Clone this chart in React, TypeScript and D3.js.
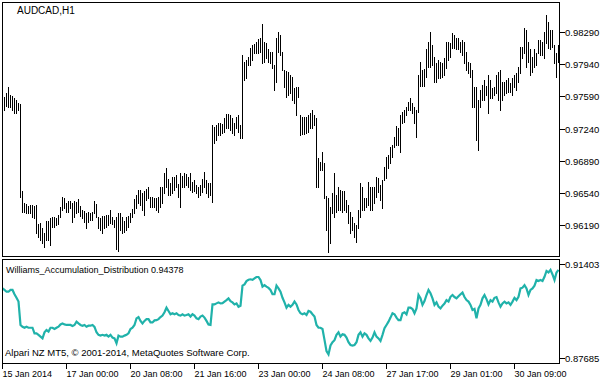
import React from "react";
import * as d3 from "d3";

const SYMBOL = "AUDCAD,H1";
const INDICATOR = "Williams_Accumulation_Distribution 0.94378";
const COPYRIGHT = "Alpari NZ MT5, © 2001-2014, MetaQuotes Software Corp.";

const HIGH = [
  0.9767, 0.9758, 0.9763, 0.9769, 0.9761, 0.9759, 0.9757, 0.9755, 0.9752, 0.9751,
  0.9656, 0.9643, 0.9642, 0.9640, 0.9641, 0.9641, 0.9640, 0.9641, 0.9620, 0.9621,
  0.9616, 0.9610, 0.9624, 0.9624, 0.9627, 0.9628, 0.9628, 0.9627, 0.9630, 0.9639,
  0.9650, 0.9649, 0.9643, 0.9645, 0.9645, 0.9643, 0.9645, 0.9644, 0.9647, 0.9640,
  0.9636, 0.9634, 0.9632, 0.9633, 0.9632, 0.9633, 0.9645, 0.9642, 0.9628, 0.9627,
  0.9629, 0.9629, 0.9630, 0.9630, 0.9636, 0.9628, 0.9625, 0.9628, 0.9632, 0.9632,
  0.9628, 0.9624, 0.9628, 0.9629, 0.9632, 0.9637, 0.9647, 0.9652, 0.9657, 0.9657,
  0.9654, 0.9656, 0.9658, 0.9660, 0.9650, 0.9650, 0.9649, 0.9649, 0.9650, 0.9661,
  0.9661, 0.9676, 0.9681, 0.9669, 0.9665, 0.9671, 0.9671, 0.9674, 0.9664, 0.9676,
  0.9673, 0.9676, 0.9675, 0.9671, 0.9676, 0.9666, 0.9668, 0.9663, 0.9661, 0.9663,
  0.9669, 0.9677, 0.9668, 0.9665, 0.9665, 0.9728, 0.9726, 0.9728, 0.9730, 0.9730,
  0.9729, 0.9736, 0.9740, 0.9740, 0.9739, 0.9736, 0.9730, 0.9737, 0.9739, 0.9728,
  0.9804, 0.9796, 0.9799, 0.9802, 0.9812, 0.9815, 0.9816, 0.9818, 0.9821, 0.9822,
  0.9838, 0.9818, 0.9817, 0.9810, 0.9807, 0.9807, 0.9793, 0.9822, 0.9829, 0.9826,
  0.9807, 0.9788, 0.9787, 0.9786, 0.9782, 0.9780, 0.9768, 0.9769, 0.9769, 0.9739,
  0.9737, 0.9737, 0.9737, 0.9739, 0.9741, 0.9744, 0.9739, 0.9736, 0.9692, 0.9688,
  0.9699, 0.9687, 0.9651, 0.9649, 0.9639, 0.9654, 0.9676, 0.9652, 0.9661, 0.9657,
  0.9656, 0.9656, 0.9646, 0.9641, 0.9633, 0.9628, 0.9621, 0.9619, 0.9636, 0.9665,
  0.9660, 0.9649, 0.9649, 0.9666, 0.9660, 0.9661, 0.9660, 0.9671, 0.9670, 0.9663,
  0.9668, 0.9682, 0.9693, 0.9695, 0.9704, 0.9706, 0.9715, 0.9727, 0.9725, 0.9739,
  0.9742, 0.9744, 0.9748, 0.9753, 0.9757, 0.9752, 0.9748, 0.9744, 0.9782, 0.9796,
  0.9788, 0.9789, 0.9810, 0.9818, 0.9829, 0.9815, 0.9802, 0.9795, 0.9799, 0.9796,
  0.9795, 0.9801, 0.9818, 0.9818, 0.9817, 0.9828, 0.9826, 0.9822, 0.9822, 0.9818,
  0.9820, 0.9818, 0.9807, 0.9796, 0.9795, 0.9788, 0.9769, 0.9769, 0.9755, 0.9766,
  0.9771, 0.9777, 0.9770, 0.9782, 0.9777, 0.9768, 0.9769, 0.9782, 0.9786, 0.9788,
  0.9775, 0.9775, 0.9777, 0.9779, 0.9774, 0.9779, 0.9782, 0.9784, 0.9791, 0.9813,
  0.9813, 0.9833, 0.9831, 0.9818, 0.9810, 0.9802, 0.9810, 0.9806, 0.9820, 0.9820,
  0.9818, 0.9829, 0.9848, 0.9840, 0.9831, 0.9831, 0.9815, 0.9806, 0.9815,
];

const LOW = [
  0.9748, 0.9744, 0.9749, 0.9748, 0.9748, 0.9744, 0.9741, 0.9741, 0.9744, 0.9650,
  0.9633, 0.9633, 0.9632, 0.9632, 0.9632, 0.9628, 0.9627, 0.9610, 0.9606, 0.9603,
  0.9600, 0.9595, 0.9603, 0.9603, 0.9597, 0.9617, 0.9617, 0.9619, 0.9620, 0.9628,
  0.9636, 0.9638, 0.9633, 0.9633, 0.9638, 0.9622, 0.9628, 0.9632, 0.9633, 0.9629,
  0.9627, 0.9622, 0.9616, 0.9622, 0.9625, 0.9625, 0.9632, 0.9628, 0.9616, 0.9614,
  0.9610, 0.9616, 0.9617, 0.9619, 0.9621, 0.9620, 0.9617, 0.9593, 0.9591, 0.9614,
  0.9610, 0.9612, 0.9614, 0.9617, 0.9622, 0.9628, 0.9632, 0.9638, 0.9643, 0.9641,
  0.9636, 0.9630, 0.9646, 0.9649, 0.9639, 0.9639, 0.9639, 0.9636, 0.9633, 0.9639,
  0.9643, 0.9654, 0.9660, 0.9652, 0.9652, 0.9654, 0.9657, 0.9661, 0.9650, 0.9639,
  0.9661, 0.9661, 0.9663, 0.9661, 0.9657, 0.9655, 0.9656, 0.9654, 0.9650, 0.9652,
  0.9655, 0.9661, 0.9654, 0.9650, 0.9652, 0.9644, 0.9708, 0.9712, 0.9717, 0.9717,
  0.9719, 0.9720, 0.9725, 0.9725, 0.9722, 0.9719, 0.9717, 0.9725, 0.9720, 0.9714,
  0.9714, 0.9777, 0.9779, 0.9793, 0.9793, 0.9799, 0.9806, 0.9806, 0.9806, 0.9807,
  0.9795, 0.9796, 0.9801, 0.9796, 0.9795, 0.9790, 0.9766, 0.9775, 0.9807, 0.9804,
  0.9788, 0.9769, 0.9758, 0.9761, 0.9763, 0.9755, 0.9752, 0.9739, 0.9758, 0.9717,
  0.9718, 0.9718, 0.9719, 0.9720, 0.9725, 0.9725, 0.9728, 0.9661, 0.9661, 0.9679,
  0.9679, 0.9649, 0.9614, 0.9590, 0.9600, 0.9632, 0.9628, 0.9633, 0.9636, 0.9636,
  0.9633, 0.9636, 0.9633, 0.9621, 0.9610, 0.9614, 0.9606, 0.9601, 0.9616, 0.9628,
  0.9636, 0.9636, 0.9639, 0.9641, 0.9636, 0.9636, 0.9643, 0.9650, 0.9655, 0.9646,
  0.9638, 0.9668, 0.9670, 0.9681, 0.9687, 0.9693, 0.9704, 0.9706, 0.9706, 0.9699,
  0.9730, 0.9731, 0.9739, 0.9744, 0.9744, 0.9741, 0.9730, 0.9715, 0.9742, 0.9770,
  0.9770, 0.9770, 0.9780, 0.9791, 0.9791, 0.9793, 0.9775, 0.9775, 0.9779, 0.9779,
  0.9780, 0.9782, 0.9790, 0.9799, 0.9802, 0.9812, 0.9812, 0.9810, 0.9810, 0.9807,
  0.9804, 0.9795, 0.9788, 0.9784, 0.9780, 0.9748, 0.9748, 0.9712, 0.9701, 0.9748,
  0.9755, 0.9755, 0.9761, 0.9741, 0.9757, 0.9757, 0.9761, 0.9763, 0.9755, 0.9744,
  0.9755, 0.9761, 0.9763, 0.9764, 0.9764, 0.9761, 0.9769, 0.9766, 0.9775, 0.9784,
  0.9801, 0.9806, 0.9791, 0.9796, 0.9782, 0.9786, 0.9791, 0.9793, 0.9806, 0.9804,
  0.9804, 0.9801, 0.9817, 0.9812, 0.9810, 0.9813, 0.9795, 0.9780, 0.9796,
];

const WAD = [
  0.9044, 0.9038, 0.9031, 0.9031, 0.9038, 0.9038, 0.9021, 0.9007, 0.8992, 0.8900,
  0.8893, 0.8889, 0.8893, 0.8889, 0.8889, 0.8889, 0.8867, 0.8867, 0.8861, 0.8854,
  0.8847, 0.8871, 0.8880, 0.8874, 0.8889, 0.8889, 0.8884, 0.8889, 0.8893, 0.8902,
  0.8906, 0.8902, 0.8900, 0.8900, 0.8900, 0.8896, 0.8900, 0.8913, 0.8906, 0.8900,
  0.8897, 0.8900, 0.8893, 0.8897, 0.8897, 0.8900, 0.8892, 0.8871, 0.8861, 0.8858,
  0.8861, 0.8858, 0.8861, 0.8854, 0.8861, 0.8850, 0.8847, 0.8828, 0.8858, 0.8854,
  0.8854, 0.8858, 0.8861, 0.8867, 0.8884, 0.8889, 0.8900, 0.8926, 0.8931, 0.8916,
  0.8906, 0.8916, 0.8923, 0.8923, 0.8910, 0.8910, 0.8918, 0.8919, 0.8923, 0.8931,
  0.8937, 0.8950, 0.8968, 0.8955, 0.8942, 0.8946, 0.8942, 0.8946, 0.8939, 0.8937,
  0.8942, 0.8937, 0.8939, 0.8942, 0.8933, 0.8942, 0.8937, 0.8926, 0.8923, 0.8933,
  0.8937, 0.8929, 0.8916, 0.8902, 0.8900, 0.8981, 0.8981, 0.8985, 0.8989, 0.8985,
  0.8986, 0.8992, 0.8998, 0.9005, 0.8994, 0.8989, 0.8981, 0.8985, 0.8972, 0.8976,
  0.9055, 0.9060, 0.9073, 0.9078, 0.9080, 0.9078, 0.9084, 0.9089, 0.9089, 0.9077,
  0.9051, 0.9057, 0.9051, 0.9046, 0.9038, 0.9021, 0.9021, 0.9055, 0.9044, 0.9031,
  0.9007, 0.8989, 0.8968, 0.8979, 0.8972, 0.8979, 0.8992, 0.8981, 0.8959, 0.8946,
  0.8942, 0.8946, 0.8939, 0.8955, 0.8952, 0.8942, 0.8933, 0.8900, 0.8889, 0.8889,
  0.8884, 0.8841, 0.8797, 0.8784, 0.8819, 0.8832, 0.8840, 0.8861, 0.8871, 0.8854,
  0.8863, 0.8861, 0.8850, 0.8832, 0.8821, 0.8819, 0.8821, 0.8832, 0.8861, 0.8871,
  0.8854, 0.8867, 0.8861, 0.8847, 0.8837, 0.8850, 0.8871, 0.8854, 0.8847, 0.8837,
  0.8861, 0.8887, 0.8900, 0.8913, 0.8929, 0.8946, 0.8942, 0.8929, 0.8919, 0.8919,
  0.8946, 0.8950, 0.8942, 0.8968, 0.8968, 0.8963, 0.8946, 0.8965, 0.9018, 0.9005,
  0.8979, 0.8994, 0.9018, 0.9038, 0.9025, 0.9005, 0.8979, 0.8989, 0.8972, 0.8965,
  0.8976, 0.8984, 0.8998, 0.8992, 0.9011, 0.9018, 0.9010, 0.9005, 0.9013, 0.9021,
  0.9028, 0.9010, 0.8998, 0.8992, 0.8979, 0.8959, 0.8963, 0.8926, 0.8965, 0.8979,
  0.9005, 0.9018, 0.9002, 0.8981, 0.8998, 0.8992, 0.9007, 0.9010, 0.8989, 0.8972,
  0.8985, 0.8992, 0.8985, 0.8989, 0.8979, 0.8992, 0.9007, 0.8998, 0.9011, 0.9044,
  0.9047, 0.9057, 0.9044, 0.9018, 0.9038, 0.9044, 0.9055, 0.9077, 0.9073, 0.9077,
  0.9073, 0.9090, 0.9113, 0.9107, 0.9117, 0.9099, 0.9077, 0.9107, 0.9117,
];

const PRICE_TICKS = [0.9829, 0.9794, 0.9759, 0.9724, 0.9689, 0.9654, 0.9619];
const WAD_TICKS = [0.91403, 0.87685];
const TIME_TICK_BARS = [0, 32, 64, 96, 128, 160, 192, 224, 256];
const TIME_LABELS = [
  "15 Jan 2014",
  "17 Jan 00:00",
  "20 Jan 08:00",
  "21 Jan 16:00",
  "23 Jan 00:00",
  "24 Jan 08:00",
  "27 Jan 17:00",
  "29 Jan 01:00",
  "30 Jan 09:00",
];

const FONT = "'Liberation Sans', Arial, sans-serif";

export default function App() {
  const W = 608;
  const H = 381;
  const left = 2.5;
  const right = 559.5;
  const mainTop = 2.5;
  const mainBottom = 256.5;
  const subTop = 259.5;
  const subBottom = 363.5;

  const n = HIGH.length;
  const x = d3.scaleLinear().domain([0, n - 1]).range([2.5, 558.5]);
  const y = d3.scaleLinear().domain([0.9619, 0.9829]).range([225.2, 32]);
  const y2 = d3.scaleLinear().domain([0.87685, 0.91403]).range([358.3, 264]);

  const wadLine = d3
    .line<number>()
    .x((_, i) => x(i))
    .y((d) => y2(d))
    .curve(d3.curveLinear);

  const snap = (v: number) => Math.round(v) + 0.5;

  return (
    <svg
      width={W}
      height={H}
      viewBox={`0 0 ${W} ${H}`}
      style={{ position: "absolute", left: 0, top: 0, background: "#fff" }}
    >
      <defs>
        <clipPath id="subclip">
          <rect x={left} y={subTop} width={right - left} height={subBottom - subTop} />
        </clipPath>
        <clipPath id="mainclip">
          <rect x={left} y={mainTop} width={right - left} height={mainBottom - mainTop} />
        </clipPath>
      </defs>
      <rect x={0} y={0} width={W} height={H} fill="#fff" />

      {/* price bars */}
      <g clipPath="url(#mainclip)" shapeRendering="crispEdges">
        {HIGH.map((h, i) => (
          <line
            key={i}
            x1={x(i)}
            x2={x(i)}
            y1={Math.round(y(h))}
            y2={Math.round(y(LOW[i])) + 1}
            stroke="#000"
            strokeWidth={1}
          />
        ))}
      </g>

      {/* WAD line */}
      <g clipPath="url(#subclip)">
        <path
          d={wadLine(WAD) || ""}
          fill="none"
          stroke="#20B2AA"
          strokeWidth={2.2}
          strokeLinejoin="miter"
        />
      </g>

      {/* frames */}
      <g shapeRendering="crispEdges" stroke="#000" fill="none" strokeWidth={1}>
        <rect x={left} y={mainTop} width={right - left} height={mainBottom - mainTop} />
        <rect x={left} y={subTop} width={right - left} height={subBottom - subTop} />
      </g>

      {/* price axis */}
      <g fontFamily={FONT} fontSize={9.5} fill="#000">
        {PRICE_TICKS.map((t) => {
          const ty = snap(y(t));
          return (
            <g key={t}>
              <line x1={right} x2={right + 5} y1={ty} y2={ty} stroke="#000" shapeRendering="crispEdges" />
              <text x={565} y={ty + 3.5}>{t.toFixed(5)}</text>
            </g>
          );
        })}
        {WAD_TICKS.map((t) => {
          const ty = snap(y2(t));
          return (
            <g key={t}>
              <line x1={right} x2={right + 5} y1={ty} y2={ty} stroke="#000" shapeRendering="crispEdges" />
              <text x={565} y={ty + 3.5}>{t.toFixed(5)}</text>
            </g>
          );
        })}
      </g>

      {/* time axis */}
      <g fontFamily={FONT} fontSize={9} fill="#000">
        {TIME_TICK_BARS.map((b, k) => {
          const tx = x(b);
          return (
            <g key={b}>
              <line x1={tx} x2={tx} y1={subBottom} y2={subBottom + 5} stroke="#000" shapeRendering="crispEdges" />
              <text x={tx} y={377}>{TIME_LABELS[k]}</text>
            </g>
          );
        })}
      </g>

      {/* labels */}
      <text x={17} y={14} fontFamily={FONT} fontSize={10} fill="#000">{SYMBOL}</text>
      <text x={6} y={272.5} fontFamily={FONT} fontSize={9} fill="#000">{INDICATOR}</text>
      <text x={5} y={356} fontFamily={FONT} fontSize={9.5} fill="#000">{COPYRIGHT}</text>
    </svg>
  );
}
